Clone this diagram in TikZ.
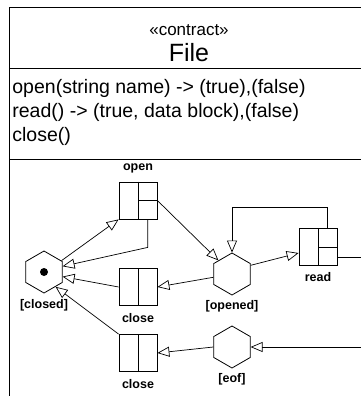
\documentclass[tikz,border=0pt]{standalone}
\usepackage{fontspec}
\setmainfont{Liberation Sans}
\usetikzlibrary{shapes.geometric, arrows.meta, positioning, calc}
\tikzstyle{anode} = [rectangle, draw, minimum width = 38pt, minimum height = 37pt, inner sep = 0pt]
\tikzstyle{hnode} = [regular polygon, regular polygon sides = 6, shape border rotate = 30, draw, minimum size = 42pt, inner sep = 0pt]
\tikzstyle{lbl} = [font = \fontsize{12.5}{13}\selectfont\bfseries, inner sep = 0pt]
\tikzstyle{line} = [draw, line width = 0.7pt]
\tikzstyle{flow} = [draw, line width = 0.7pt, -{Triangle[open, length = 12pt, width = 10pt]}]

\begin{document}
\begin{tikzpicture}[x = 1pt, y = -1pt, line width = 0.8pt]
			\useasboundingbox (0, 0) rectangle (361, 396);
			\clip (0, 0) rectangle (361, 396);

			% class frame
			\draw (375, 7) -- (9, 7) -- (9, 410);
			\draw (9, 68) -- (375, 68);
			\draw (9, 159) -- (375, 159);
			\node [font = \fontsize{17}{20}\selectfont] (stereo) at (189, 30) {«contract»};
			\node [font = \fontsize{25}{28}\selectfont] (cname) at (189, 53) {File};
			\node [font = \fontsize{19.5}{24}\selectfont, align = left, anchor = north west, inner sep = 0pt] (ops) at (12, 79)
				{open(string name) -> (true),(false)\\read() -> (true, data block),(false)\\close()};

			% states
			\node [hnode, label = {[lbl, yshift = -6pt]below:[closed]}] (closed) at (44, 272) {};
			\fill (closed.center) circle (4pt);
			\node [hnode, label = {[lbl, yshift = -5pt]below:[opened]}] (opened) at (232, 274) {};
			\node [hnode, label = {[lbl, yshift = -5pt]below:[eof]}] (eof) at (232, 347) {};

			% actions
			\node [anode, label = {[lbl, yshift = 8pt]above:open}] (open) at (138, 200.5) {};
			\node [anode, label = {[lbl, yshift = -7pt]below:close}] (close1) at (138, 287) {};
			\node [anode, label = {[lbl, yshift = -7pt]below:close}] (close2) at (138, 353) {};
			\node [anode, label = {[lbl, yshift = -6pt]below:read}] (read) at (318, 247) {};
			\foreach \a in {open, close1, close2, read}
				\draw (\a.north) -- (\a.south);
			\draw (open.center -| open.east) -- (open.center);
			\draw (read.center -| read.east) -- (read.center);

			\coordinate (openbot) at ($(open.south)!0.5!(open.south east)$);
			\coordinate (readtop) at ($(read.north)!0.5!(read.north east)$);
			\coordinate (readout) at (370, 257);
			\coordinate (eofin) at (370, 347);

			\path [flow] (closed.33) -- (open.south west);
			\path [flow] (openbot) -- ++(0, 28) -- (closed.17);
			\path [flow] (open.east) -- (opened.135);
			\path [flow] (opened.190) -- (close1.east);
			\path [flow] (close1.west) -- (closed.-14);
			\path [flow] (close2.north west) -- (closed.-52);
			\path [flow] (eof.west) -- (close2.east);
			\path [flow] (opened.25) -- ([yshift = -6pt]read.west);
			\path [flow] (readtop) -- ++(0, -21) -| (opened.north);
			\path [line] ([yshift = -10pt]read.east) -- (readout);
			\path [flow] (eofin) -- (eof.east);
		\end{tikzpicture}
\end{document}
